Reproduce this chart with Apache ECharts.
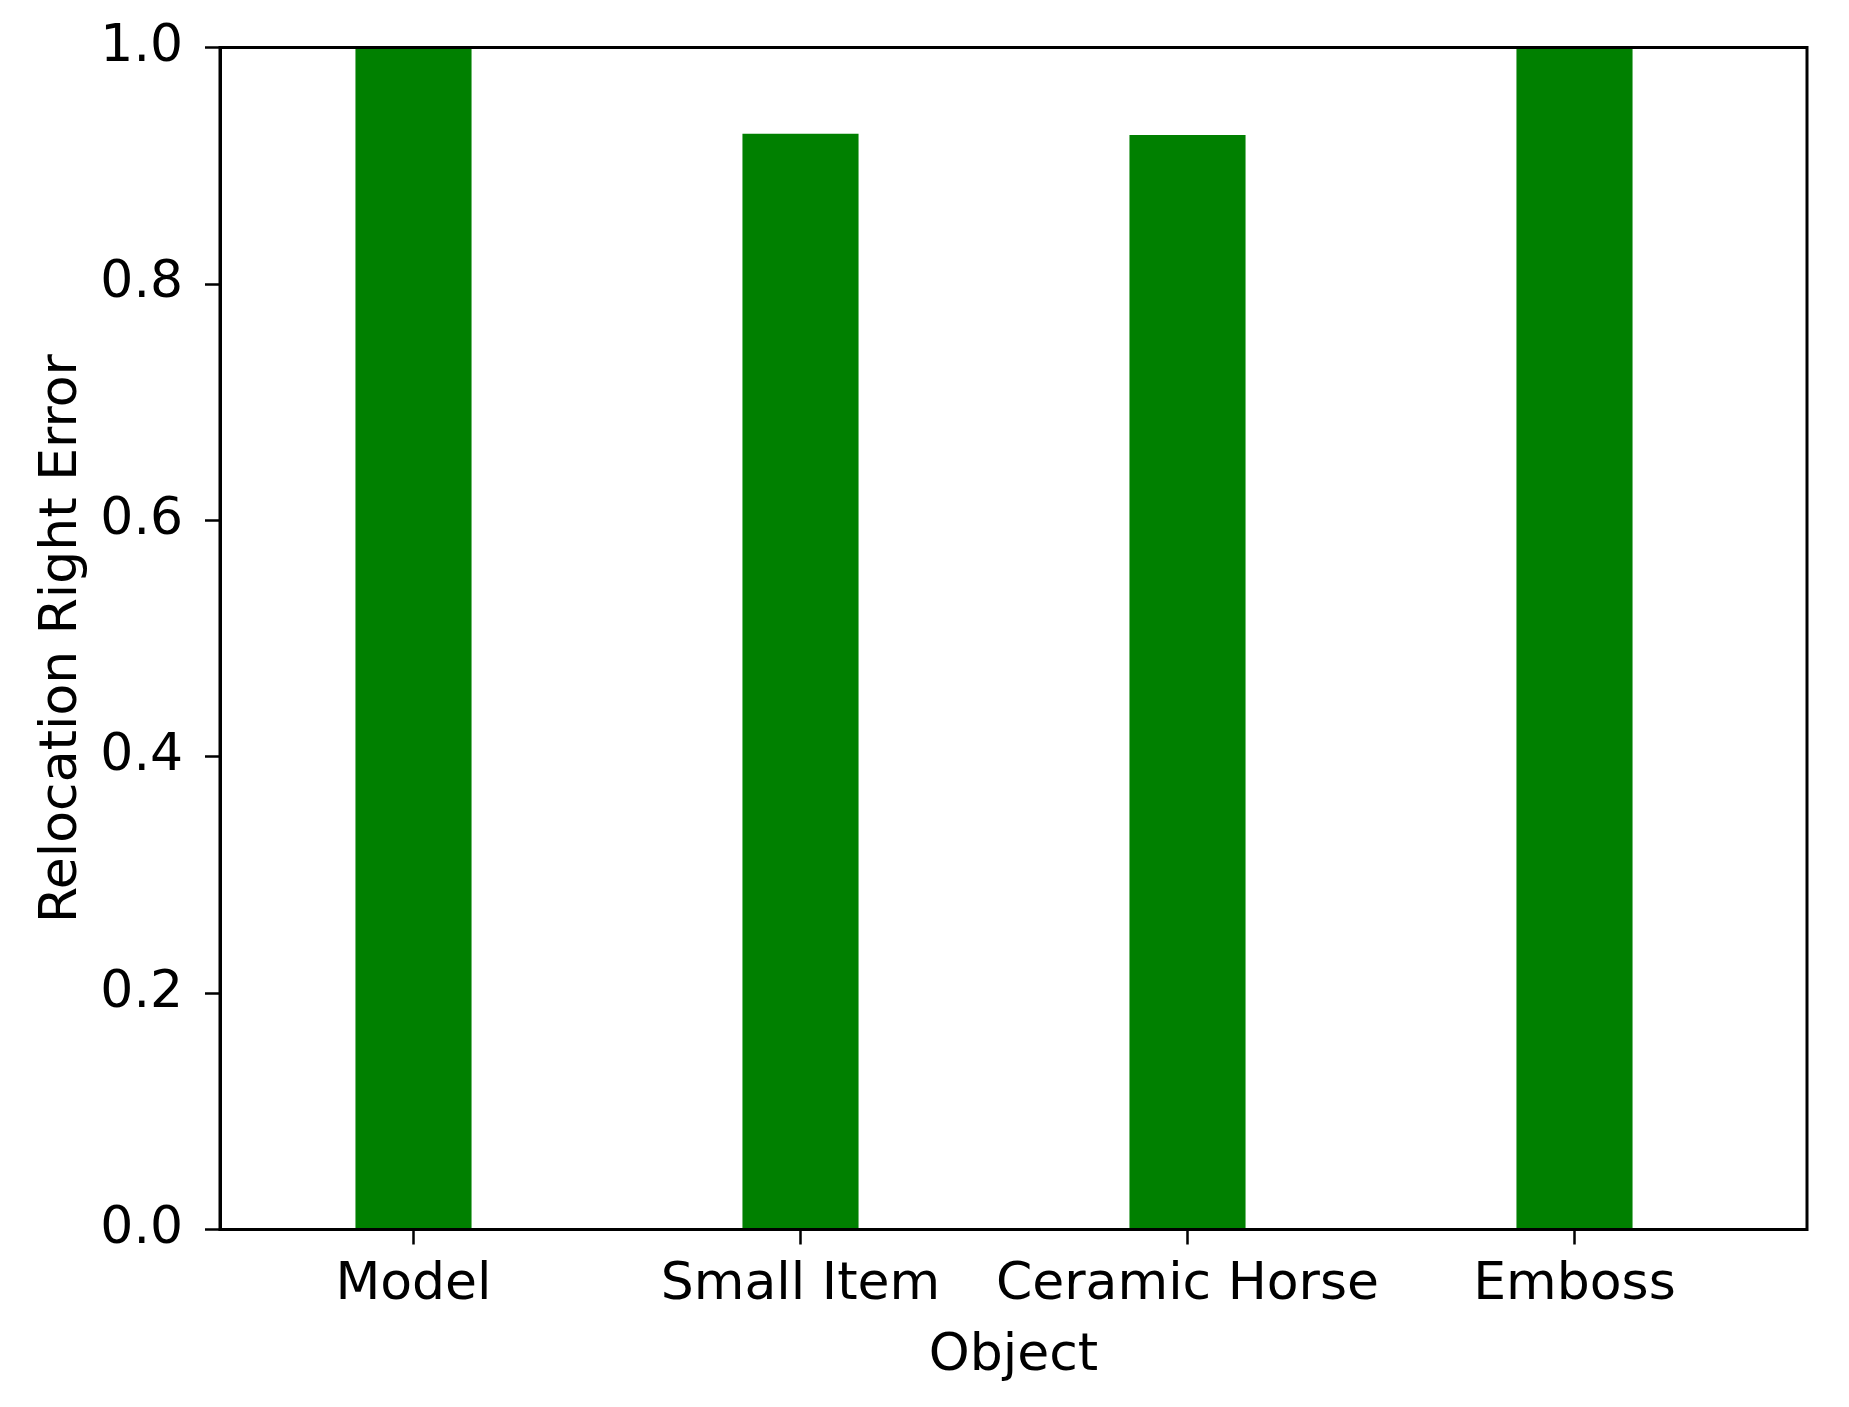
<!DOCTYPE html>
<html>
<head>
<meta charset="utf-8">
<script src="https://cdn.jsdelivr.net/npm/echarts@6/dist/echarts.min.js"></script>
<style>
html,body{margin:0;padding:0;background:#fff;}
#chart{width:1849px;height:1407px;}
</style>
</head>
<body>
<div id="chart"></div>
<script>
const categories = ["Model", "Small Item", "Ceramic Horse", "Emboss"];
const values = [1.0, 0.927, 0.926, 1.0];
const yTicks = [0, 0.2, 0.4, 0.6, 0.8, 1.0];
const xTitle = "Object";
const yTitle = "Relocation Right Error";

const FONT = "DejaVu Sans";
const chart = echarts.init(document.getElementById('chart'), null, {renderer: 'canvas'});
chart.setOption({
  animation: false,
  backgroundColor: '#ffffff',
  grid: [
    {left: 220, top: 47.5, width: 1587, height: 1182, show: true, borderColor: '#000', borderWidth: 3, backgroundColor: 'transparent', z: 10},
    {left: 220, top: 47.5, width: 1548, height: 1182}
  ],
  xAxis: [
    {
      gridIndex: 0, type: 'value', min: 0, max: 1,
      name: xTitle, nameLocation: 'middle', nameGap: 101,
      nameTextStyle: {fontFamily: FONT, fontSize: 52, color: '#000'},
      axisLine: {show: false}, axisTick: {show: false}, axisLabel: {show: false}, splitLine: {show: false}
    },
    {
      gridIndex: 1, type: 'category', data: categories,
      axisLine: {show: true, lineStyle: {color: '#000', width: 3}},
      axisTick: {show: true, alignWithLabel: true, length: 15, lineStyle: {color: '#000', width: 2.5}},
      axisLabel: {fontFamily: FONT, fontSize: 52, color: '#000', margin: 30, interval: 0},
      splitLine: {show: false}
    }
  ],
  yAxis: [
    {gridIndex: 0, type: 'value', show: false, min: 0, max: 1},
    {
      gridIndex: 1, type: 'value', min: yTicks[0], max: yTicks[yTicks.length - 1], interval: 0.2,
      name: yTitle, nameLocation: 'middle', nameGap: 132,
      nameTextStyle: {fontFamily: FONT, fontSize: 52, color: '#000'},
      axisLine: {show: true, lineStyle: {color: '#000', width: 3}},
      axisTick: {show: true, length: 15, lineStyle: {color: '#000', width: 2.5}},
      axisLabel: {fontFamily: FONT, fontSize: 52, color: '#000', margin: 37,
        formatter: v => v.toFixed(1)},
      splitLine: {show: false}
    }
  ],
  series: [{
    type: 'bar',
    xAxisIndex: 1, yAxisIndex: 1,
    data: values,
    barWidth: '30%',
    itemStyle: {color: '#008000'}
  }]
});
</script>
</body>
</html>
